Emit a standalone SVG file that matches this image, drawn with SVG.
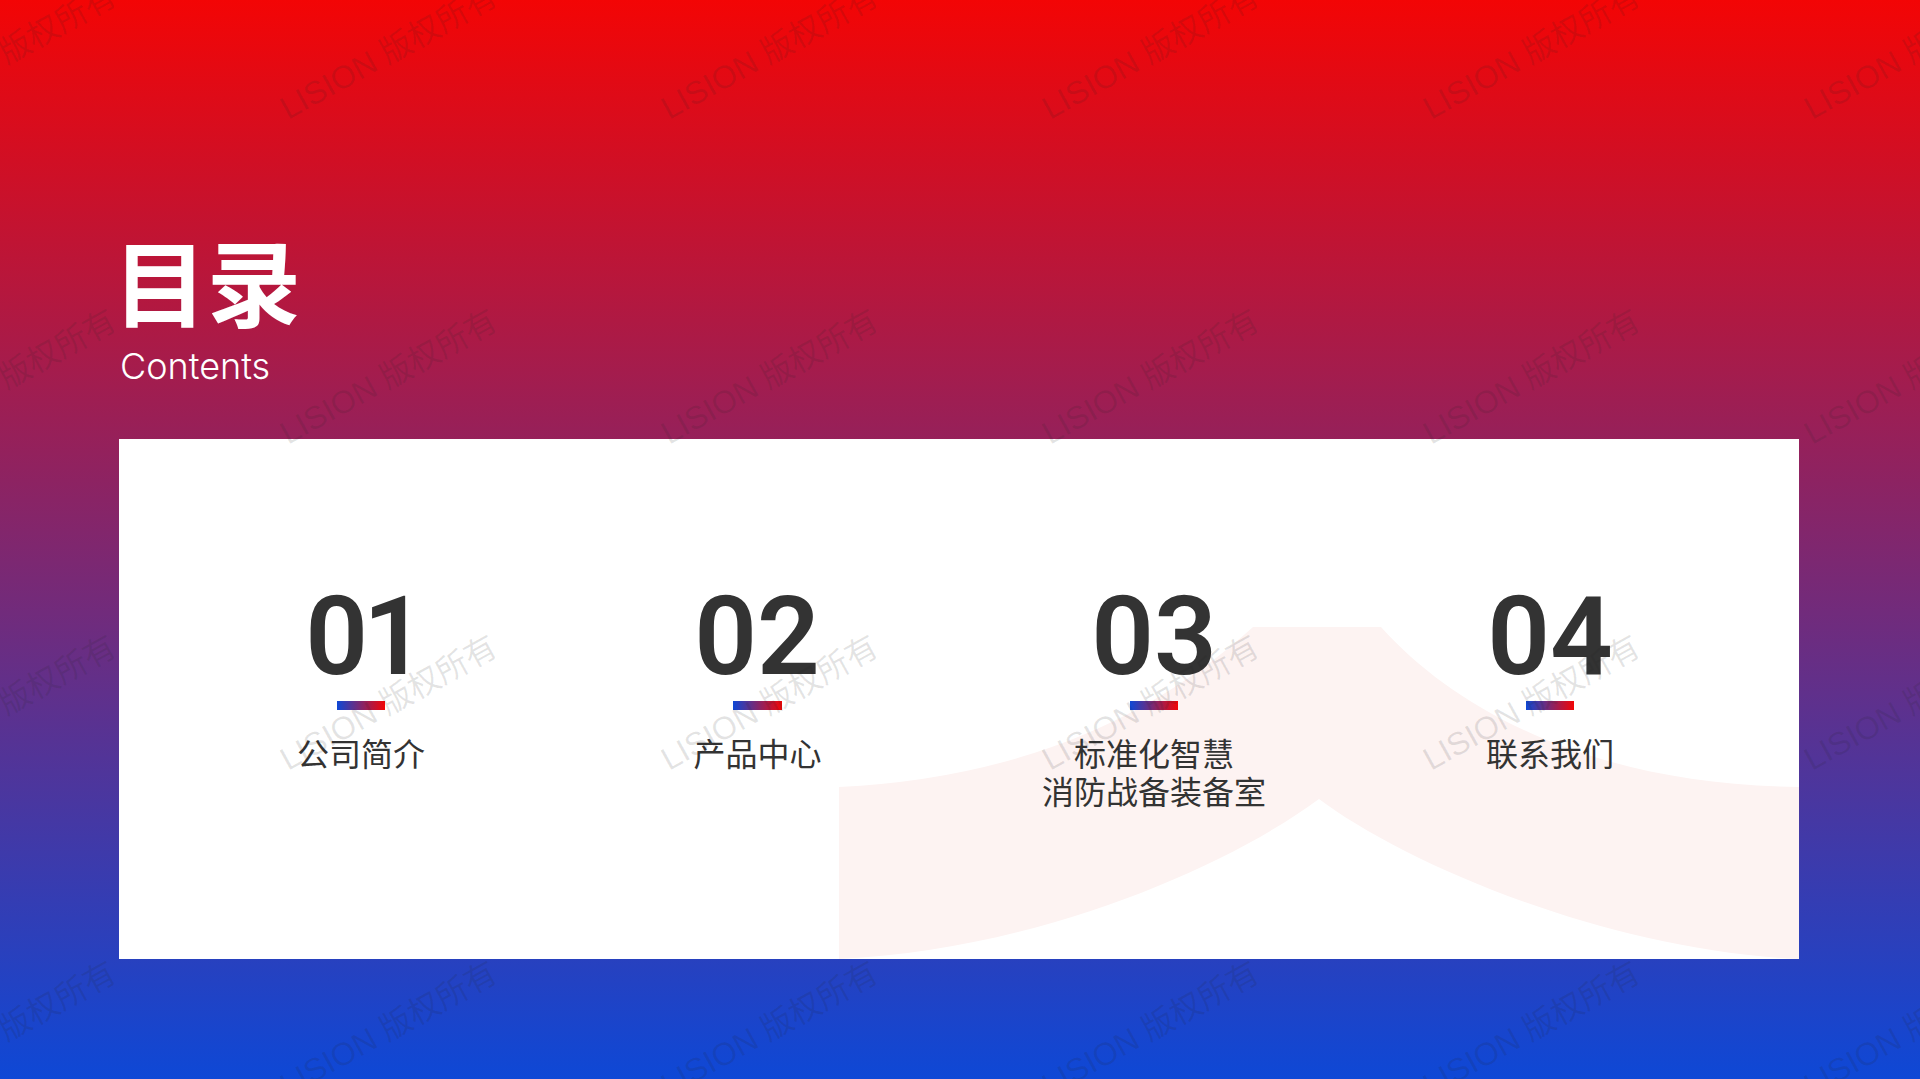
<svg xmlns="http://www.w3.org/2000/svg" width="1920" height="1079" viewBox="0 0 1920 1079">
<style>
.cjk{font-family:"Noto Sans CJK SC","Noto Sans",sans-serif}
.num{font-family:Roboto,"Liberation Sans",sans-serif;font-size:110px;font-weight:600;fill:#333;text-anchor:middle}
.lab{font-family:"Noto Sans CJK SC",sans-serif;font-size:32px;fill:#333;text-anchor:middle}
.wm{font-family:"Liberation Sans","Noto Sans CJK SC",sans-serif;font-size:32px;fill:#222;fill-opacity:.12}
</style>
<defs>
<linearGradient id="bg" x1="0" y1="0" x2="0" y2="1"><stop offset="0" stop-color="#f30505"/><stop offset="1" stop-color="#0e48d6"/></linearGradient>
<linearGradient id="bar" x1="0" y1="0" x2="1" y2="0"><stop offset="0" stop-color="#0e48d6"/><stop offset="1" stop-color="#f30505"/></linearGradient>
</defs>
<rect width="1920" height="1079" fill="url(#bg)"/>
<rect x="119" y="439" width="1680" height="520" fill="#fff"/>
<path d="M839 787Q1090 775 1253 627H1381C1460 715 1600 785 1799 787V959C1600 950 1400 860 1319 799C1230 865 1040 950 839 959Z" fill="#fdf3f2"/>
<g id="title">
<text x="113" y="320" class="cjk" font-size="94" font-weight="700" fill="#fff">目录</text>
<text x="120" y="379" font-family="Inter,sans-serif" font-size="36" font-weight="300" fill="#fff">Contents</text>
</g>
<g id="item-1"><text x="363" y="674" class="num" letter-spacing="-5">01</text><rect x="337" y="701" width="48" height="9" fill="url(#bar)"/><text x="361" y="766" class="lab">公司简介</text></g>
<g id="item-2"><text x="757" y="674" class="num">02</text><rect x="733" y="701" width="49" height="9" fill="url(#bar)"/><text x="757.500" y="766" class="lab">产品中心</text></g>
<g id="item-3"><text x="1154" y="674" class="num">03</text><rect x="1130" y="701" width="48" height="9" fill="url(#bar)"/><text x="1154" y="766" class="lab">标准化智慧</text><text x="1154" y="804" class="lab">消防战备装备室</text></g>
<g id="item-4"><text x="1550" y="674" class="num">04</text><rect x="1526" y="701" width="48" height="9" fill="url(#bar)"/><text x="1550" y="766" class="lab">联系我们</text></g>
<g id="watermarks">
<text class="wm" transform="translate(-93 120) rotate(-29)">LISION 版权所有</text><text class="wm" transform="translate(288 120) rotate(-29)">LISION 版权所有</text><text class="wm" transform="translate(669 120) rotate(-29)">LISION 版权所有</text><text class="wm" transform="translate(1050 120) rotate(-29)">LISION 版权所有</text><text class="wm" transform="translate(1431 120) rotate(-29)">LISION 版权所有</text><text class="wm" transform="translate(1812 120) rotate(-29)">LISION 版权所有</text>
<text class="wm" transform="translate(-93 445) rotate(-29)">LISION 版权所有</text><text class="wm" transform="translate(288 445) rotate(-29)">LISION 版权所有</text><text class="wm" transform="translate(669 445) rotate(-29)">LISION 版权所有</text><text class="wm" transform="translate(1050 445) rotate(-29)">LISION 版权所有</text><text class="wm" transform="translate(1431 445) rotate(-29)">LISION 版权所有</text><text class="wm" transform="translate(1812 445) rotate(-29)">LISION 版权所有</text>
<text class="wm" transform="translate(-93 771) rotate(-29)">LISION 版权所有</text><text class="wm" transform="translate(288 771) rotate(-29)">LISION 版权所有</text><text class="wm" transform="translate(669 771) rotate(-29)">LISION 版权所有</text><text class="wm" transform="translate(1050 771) rotate(-29)">LISION 版权所有</text><text class="wm" transform="translate(1431 771) rotate(-29)">LISION 版权所有</text><text class="wm" transform="translate(1812 771) rotate(-29)">LISION 版权所有</text>
<text class="wm" transform="translate(-93 1097) rotate(-29)">LISION 版权所有</text><text class="wm" transform="translate(288 1097) rotate(-29)">LISION 版权所有</text><text class="wm" transform="translate(669 1097) rotate(-29)">LISION 版权所有</text><text class="wm" transform="translate(1050 1097) rotate(-29)">LISION 版权所有</text><text class="wm" transform="translate(1431 1097) rotate(-29)">LISION 版权所有</text><text class="wm" transform="translate(1812 1097) rotate(-29)">LISION 版权所有</text>
</g>
</svg>
